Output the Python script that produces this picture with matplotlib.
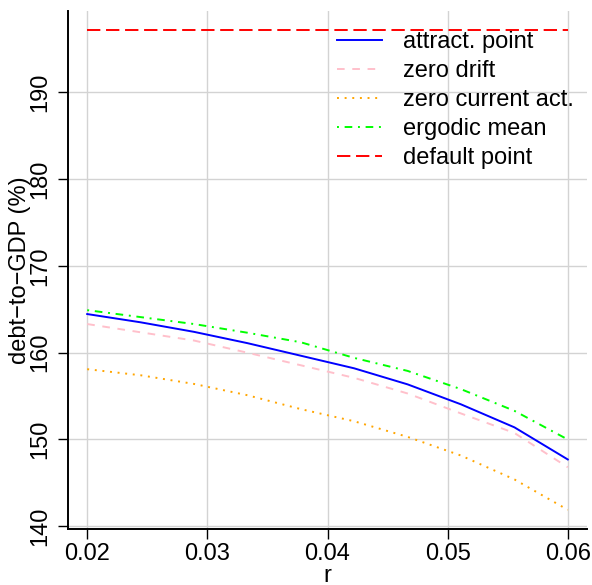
import numpy as np
import matplotlib
matplotlib.use("Agg")
import matplotlib.pyplot as plt

plt.rcParams['font.family'] = ['Liberation Sans', 'DejaVu Sans']
plt.rcParams['lines.scale_dashes'] = False

r = [0.02, 0.02444, 0.02889, 0.03333, 0.03778, 0.04222, 0.04667, 0.05111, 0.05556, 0.06]
attract_point = [164.45, 163.5, 162.4, 161.1, 159.65, 158.2, 156.35, 154.05, 151.4, 147.7]
zero_drift = [163.3, 162.35, 161.4, 160.0, 158.55, 157.1, 155.3, 153.0, 150.75, 146.8]
zero_current = [158.1, 157.4, 156.4, 155.1, 153.5, 152.1, 150.3, 148.15, 145.4, 141.9]
ergodic_mean = [164.9, 164.1, 163.3, 162.3, 161.2, 159.4, 157.9, 155.8, 153.3, 150.0]
default_point = [197.15] * len(r)

labels = ["attract. point", "zero drift", "zero current act.", "ergodic mean", "default point"]
xticks = [0.02, 0.03, 0.04, 0.05, 0.06]
yticks = [140, 150, 160, 170, 180, 190]

W, H = 592, 585
fig = plt.figure(figsize=(W / 100, H / 100), dpi=100)
ax = fig.add_axes([68 / W, 1 - 529 / H, (587 - 68) / W, (529 - 11) / H])

FS = 17
lw = 1.4
ax.plot(r, attract_point, color='#0000FF', lw=lw, label=labels[0])
ax.plot(r, zero_drift, color='#FFC0CB', lw=lw, dashes=(5.5, 5.5), label=labels[1])
ax.plot(r, zero_current, color='#FFA500', lw=lw, dashes=(1.4, 4.1), label=labels[2])
ax.plot(r, ergodic_mean, color='#00FF00', lw=lw, dashes=(1.4, 4.1, 5.5, 4.1), label=labels[3])
ax.plot(r, default_point, color='#FF0000', lw=lw, dashes=(9.6, 4.1), label=labels[4])

xr = r[-1] - r[0]
ax.set_xlim(r[0] - 0.04 * xr, r[-1] + 0.04 * xr)
ymin = min(zero_current); ymax = max(default_point)
yr = ymax - ymin
ax.set_ylim(ymin - 0.04 * yr, ymax + 0.04 * yr)

ax.set_xticks(xticks)
ax.set_xticklabels([f"{v:.2f}" for v in xticks])
ax.set_yticks(yticks)
ax.set_yticklabels([str(v) for v in yticks], rotation=90, va='center')

ax.grid(True, color='#D3D3D3', lw=1.0)
ax.set_axisbelow(True)
for s in ['top', 'right']:
    ax.spines[s].set_visible(False)
for s in ['left', 'bottom']:
    ax.spines[s].set_linewidth(1.4)
ax.tick_params(axis='both', direction='out', length=7, width=1.0, labelsize=FS, colors='black')
ax.tick_params(axis='x', pad=3)
ax.tick_params(axis='y', pad=5)

ax.set_xlabel("r", fontsize=FS, labelpad=0)
ax.set_ylabel("debt\u2212to\u2212GDP (%)", fontsize=FS, labelpad=-1)

leg = ax.legend(loc='upper left', bbox_to_anchor=(337 / W, 1 - 31 / H), bbox_transform=fig.transFigure,
                frameon=False, fontsize=FS, handlelength=1.9, handletextpad=0.9,
                labelspacing=0.3, borderpad=0, borderaxespad=0)

fig.savefig("out.png", dpi=100)
